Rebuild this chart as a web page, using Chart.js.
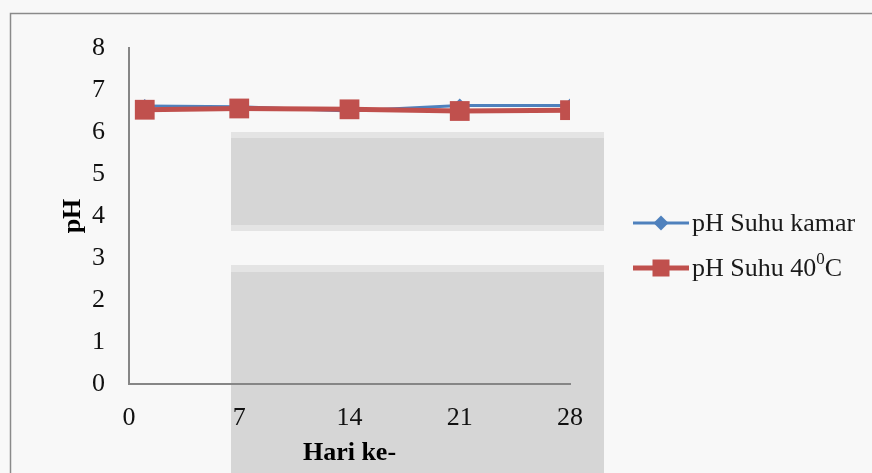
<!DOCTYPE html>
<html>
<head>
<meta charset="utf-8">
<script src="https://cdn.jsdelivr.net/npm/chart.js@4/dist/chart.umd.min.js"></script>
<style>
  html, body { margin: 0; padding: 0; background: #f7f7f7; }
  #wrap { width: 872px; height: 473px; position: relative; }
</style>
</head>
<body>
<div id="wrap"><canvas id="c" width="872" height="473"></canvas></div>
<script>
// Hari pengamatan dan nilai pH
const days = [1, 7, 14, 21, 28];
const phKamar = [6.62, 6.6, 6.5, 6.63, 6.63];
const ph40 = [6.53, 6.56, 6.54, 6.5, 6.52];
const xTicks = [0, 7, 14, 21, 28];
const yTicks = [0, 1, 2, 3, 4, 5, 6, 7, 8];
const seriesNames = ['pH Suhu kamar', 'pH Suhu 40\u2070C'];
const xTitle = 'Hari ke-';
const yTitle = 'pH';

const BLUE = '#4f81bd';
const RED = '#c0504d';
const AXIS = '#868686';
const FONT = "'Liberation Serif', 'Times New Roman', serif";

const toPoints = (vals) => days.map((d, i) => ({ x: d, y: vals[i] }));

// Page frame and the grey panels behind the plot
const backdrop = {
  id: 'backdrop',
  beforeDraw(chart) {
    const ctx = chart.ctx;
    ctx.save();
    ctx.fillStyle = '#f8f8f8';
    ctx.fillRect(0, 0, chart.width, chart.height);
    ctx.fillStyle = '#e4e4e4';
    ctx.fillRect(231, 132, 373, 99);
    ctx.fillRect(231, 265, 373, 208);
    ctx.fillStyle = '#d6d6d6';
    ctx.fillRect(231, 138, 373, 87);
    ctx.fillRect(231, 272, 373, 201);
    ctx.strokeStyle = '#8a8a8a';
    ctx.lineWidth = 1.5;
    ctx.beginPath();
    ctx.moveTo(10.5, chart.height);
    ctx.lineTo(10.5, 13.5);
    ctx.lineTo(chart.width, 13.5);
    ctx.stroke();
    ctx.restore();
  }
};

// Legend on the right: line sample with marker, then the series name
const sideLegend = {
  id: 'sideLegend',
  afterDraw(chart) {
    const ctx = chart.ctx;
    const rows = [223, 268];
    ctx.save();
    chart.data.datasets.forEach((ds, i) => {
      const y = rows[i];
      ctx.strokeStyle = ds.borderColor;
      ctx.lineWidth = ds.borderWidth;
      ctx.beginPath();
      ctx.moveTo(633, y);
      ctx.lineTo(689, y);
      ctx.stroke();
      ctx.fillStyle = ds.backgroundColor;
      if (ds.pointStyle === 'rectRot') {
        const r = 7.5;
        ctx.beginPath();
        ctx.moveTo(661, y - r);
        ctx.lineTo(661 + r, y);
        ctx.lineTo(661, y + r);
        ctx.lineTo(661 - r, y);
        ctx.closePath();
        ctx.fill();
      } else {
        ctx.fillRect(661 - 8.5, y - 8.5, 17, 17);
      }
      ctx.fillStyle = '#1a1a1a';
      ctx.textBaseline = 'middle';
      ctx.textAlign = 'left';
      const parts = ds.label.split('\u2070');
      ctx.font = '26px ' + FONT;
      let x = 692;
      ctx.fillText(parts[0], x, y + 1);
      if (parts.length > 1) {
        x += ctx.measureText(parts[0]).width;
        ctx.font = '17px ' + FONT;
        ctx.fillText('0', x, y - 8);
        x += ctx.measureText('0').width;
        ctx.font = '26px ' + FONT;
        ctx.fillText(parts[1], x, y + 1);
      }
    });
    ctx.restore();
  }
};

new Chart(document.getElementById('c'), {
  type: 'line',
  data: {
    datasets: [
      {
        label: seriesNames[0],
        data: toPoints(phKamar),
        borderColor: BLUE,
        backgroundColor: BLUE,
        borderWidth: 3,
        pointStyle: 'rectRot',
        pointRadius: 7,
        pointBorderWidth: 0,
        tension: 0,
        order: 2
      },
      {
        label: seriesNames[1],
        data: toPoints(ph40),
        borderColor: RED,
        backgroundColor: RED,
        borderWidth: 5,
        pointStyle: 'rect',
        pointRadius: 14,
        pointBorderWidth: 0,
        tension: 0,
        order: 1
      }
    ]
  },
  options: {
    responsive: false,
    animation: false,
    events: [],
    layout: { padding: { left: 40, right: 302, top: 48, bottom: 0 } },
    plugins: {
      legend: { display: false },
      tooltip: { enabled: false }
    },
    scales: {
      x: {
        type: 'linear',
        min: 0,
        max: 28,
        afterBuildTicks(scale) { scale.ticks = xTicks.map(v => ({ value: v })); },
        afterFit(scale) { scale.height = 89; },
        grid: { display: false },
        border: { display: true, color: AXIS, width: 2 },
        ticks: { color: '#111', padding: 11, font: { family: FONT, size: 26 } },
        title: { display: true, text: xTitle, color: '#000', padding: { top: 0, bottom: 4 }, font: { family: FONT, size: 26, weight: 'bold' } }
      },
      y: {
        min: 0,
        max: 8,
        afterBuildTicks(scale) { scale.ticks = yTicks.map(v => ({ value: v })); },
        afterFit(scale) { scale.width = 89; },
        grid: { display: false },
        border: { display: true, color: AXIS, width: 2 },
        ticks: { color: '#111', padding: 16, font: { family: FONT, size: 26 } },
        title: { display: true, text: yTitle, color: '#000', padding: { top: 18, bottom: 0 }, font: { family: FONT, size: 26, weight: 'bold' } }
      }
    }
  },
  plugins: [backdrop, sideLegend]
});
</script>
</body>
</html>
